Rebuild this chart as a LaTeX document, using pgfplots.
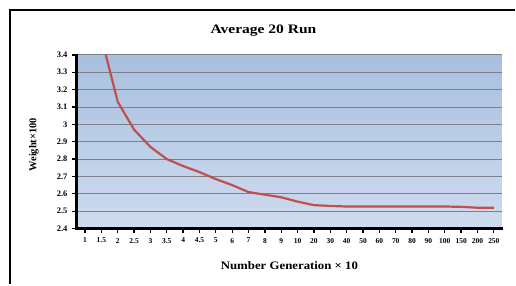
\documentclass[border=0pt]{standalone}
\usepackage{fontspec}
\setmainfont{Liberation Serif}
\usepackage{pgfplots}
\pgfplotsset{compat=1.18}
\definecolor{bgtop}{RGB}{168,192,224}
\definecolor{bgbot}{RGB}{206,219,239}
\definecolor{linered}{RGB}{192,80,77}
\definecolor{gridc}{RGB}{125,128,138}
\begin{document}
\begin{tikzpicture}
\path (0bp,0bp) rectangle (516bp,-285bp);
\fill[white] (10bp,-10bp) rectangle (516bp,-285bp);
% background gradient as horizontal strips
\foreach \k in {0,...,23} {
  \pgfmathsetmacro\pct{100*\k/23}
  \pgfmathsetmacro\ytop{-55-\k*7.25}
  \pgfmathsetmacro\ybot{-55-(\k+1)*7.25-0.4}
  \fill[bgbot!\pct!bgtop] (77bp,\ytop bp) rectangle (503bp,\ybot bp);
}
\begin{axis}[
  at={(77bp,-229bp)}, anchor=south west,
  scale only axis, width=426bp, height=174bp,
  xmin=-0.5, xmax=25.5, ymin=2.4, ymax=3.4,
  axis lines*=left,
  every outer x axis line/.append style={line width=2.6bp, black, -},
  every outer y axis line/.append style={line width=2.6bp, black, -},
  xtick={0,...,25},
  xticklabels={1,1.5,2,2.5,3,3.5,4,4.5,5,6,7,8,9,10,20,30,40,50,60,70,80,90,100,150,200,250},
  ytick={2.4,2.5,...,3.4},
  yticklabels={2.4,2.5,2.6,2.7,2.8,2.9,3,3.1,3.2,3.3,3.4},
  tick align=outside,
  major tick length=3bp,
  every tick/.append style={line width=1.2bp, black},
  ymajorgrids,
  major grid style={gridc, line width=0.9bp},
  /pgf/number format/assume math mode=true,
  xticklabel style={font=\fontsize{7.5}{8}\selectfont\bfseries, yshift=-3bp},
  yticklabel style={font=\fontsize{8.5}{9}\selectfont\bfseries, xshift=-3bp},
]
\addplot[linered, line width=2.2bp] coordinates {
(0,3.95) (1,3.50) (2,3.13) (3,2.97) (4,2.87) (5,2.80) (6,2.76) (7,2.725)
(8,2.685) (9,2.65) (10,2.61) (11,2.595) (12,2.58) (13,2.555) (14,2.535)
(15,2.53) (16,2.527) (17,2.527) (18,2.527) (19,2.527) (20,2.527) (21,2.527)
(22,2.527) (23,2.525) (24,2.52) (25,2.52)
};
\end{axis}
\node[font=\fontsize{13}{15}\selectfont\bfseries, xscale=1.2] at (264bp,-31bp) {Average 20 Run};
\node[font=\fontsize{11.5}{13}\selectfont\bfseries, xscale=1.12] at (290bp,-266bp) {Number Generation × 10};
\node[font=\fontsize{10.5}{12}\selectfont\bfseries, rotate=90] at (34bp,-145bp) {Weight×100};
% axis lines and tick marks
\foreach \i in {0,...,25} {
  \draw[line width=1.3bp, black] ({(77+(\i+0.5)*426/26)*1bp},-229bp) -- ({(77+(\i+0.5)*426/26)*1bp},-233.5bp);
}
\foreach \j in {0,...,10} {
  \draw[line width=1.3bp, black] (72bp,{(-229+\j*17.4)*1bp}) -- (77bp,{(-229+\j*17.4)*1bp});
}
\draw[line width=3bp, black] (77bp,-54bp) -- (77bp,-229bp) -- (504bp,-229bp);
\draw[line width=2bp, black] (10bp,-285bp) -- (10bp,-10bp) -- (516bp,-10bp);
\end{tikzpicture}
\end{document}
